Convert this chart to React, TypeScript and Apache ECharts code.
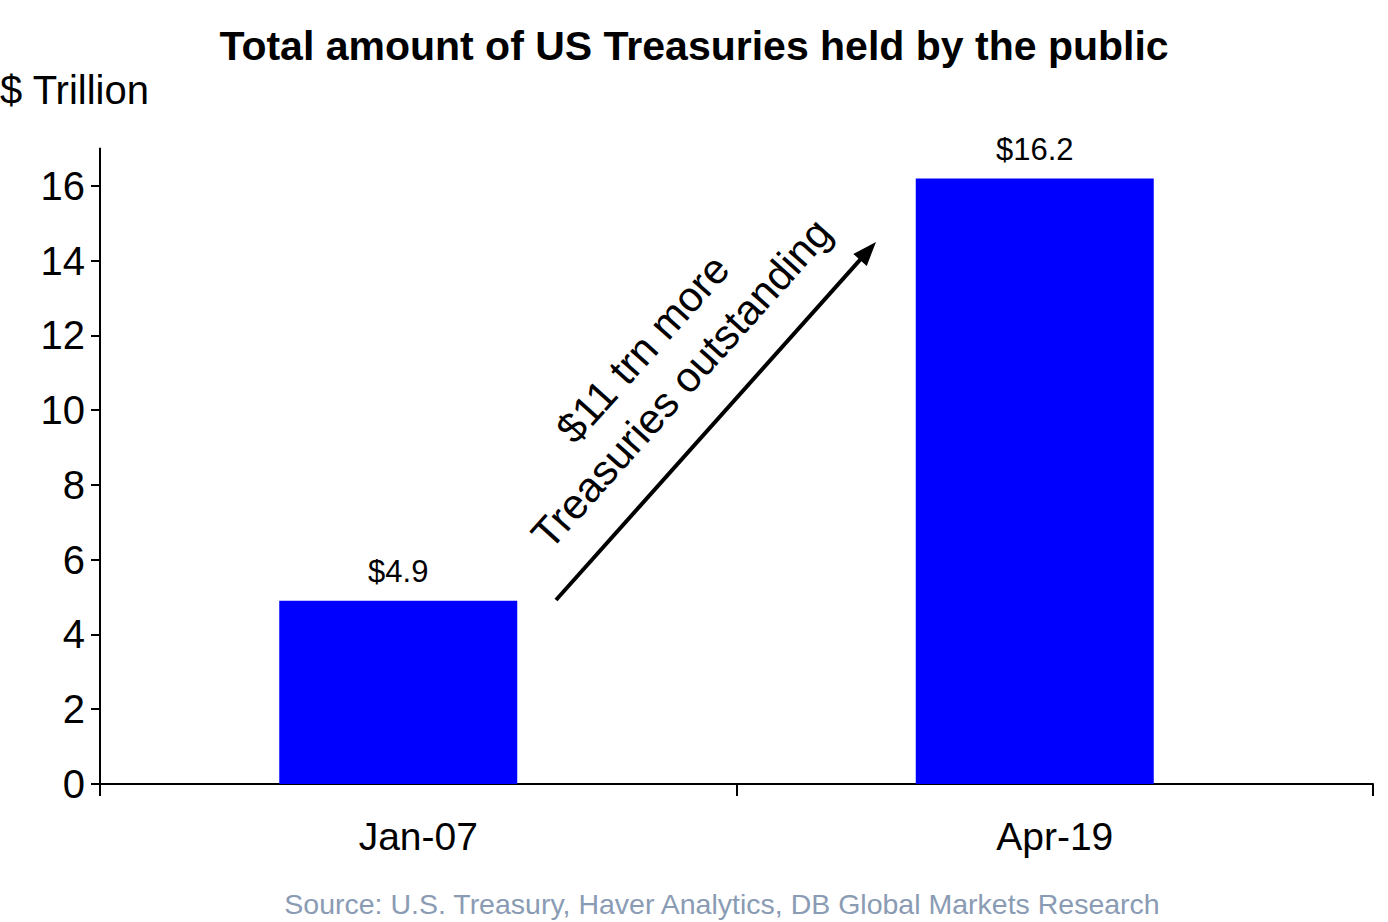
import React, { useEffect, useRef } from "react";
import * as echarts from "echarts";

const categories = ["Jan-07", "Apr-19"];
const values = [4.9, 16.2];
const yTicks = [0, 2, 4, 6, 8, 10, 12, 14, 16];
const titleText = "Total amount of US Treasuries held by the public";
const unitText = "$ Trillion";
const annotationLines = ["$11 trn more", "Treasuries outstanding"];
const sourceText = "Source: U.S. Treasury, Haver Analytics, DB Global Markets Research";

const FONT = "'Liberation Sans', Arial, Helvetica, sans-serif";

function arrowGraphics(x1: number, y1: number, x2: number, y2: number) {
  const dx = x2 - x1;
  const dy = y2 - y1;
  const len = Math.sqrt(dx * dx + dy * dy);
  const ux = dx / len;
  const uy = dy / len;
  const headLen = 24;
  const halfW = 9;
  const bx = x2 - headLen * ux;
  const by = y2 - headLen * uy;
  const nx = -uy;
  const ny = ux;
  return [
    {
      type: "line",
      shape: { x1, y1, x2: bx + ux * 2, y2: by + uy * 2 },
      style: { stroke: "#000", lineWidth: 4 },
    },
    {
      type: "polygon",
      shape: {
        points: [
          [x2, y2],
          [bx + halfW * nx, by + halfW * ny],
          [bx - halfW * nx, by - halfW * ny],
        ],
      },
      style: { fill: "#000" },
    },
  ];
}

export default function App() {
  const ref = useRef<HTMLDivElement>(null);
  useEffect(() => {
    if (!ref.current) return;
    const chart = echarts.init(ref.current, undefined, { renderer: "svg" });
    const angle = Math.atan2(600 - 243, 876 - 556);
    chart.setOption({
      animation: false,
      backgroundColor: "#ffffff",
      title: {
        text: titleText,
        left: "center",
        top: 20,
        textStyle: { fontFamily: FONT, fontSize: 41, fontWeight: "bold", color: "#000" },
      },
      grid: { left: 100, right: 15, top: 148.6, bottom: 138, containLabel: false },
      xAxis: {
        type: "category",
        data: categories,
        boundaryGap: true,
        axisLine: { show: true, lineStyle: { color: "#000", width: 2 } },
        axisTick: { show: true, length: 12, lineStyle: { color: "#000", width: 2 } },
        axisLabel: { fontFamily: FONT, fontSize: 39, color: "#000", margin: 33 },
        splitLine: { show: false },
      },
      yAxis: {
        type: "value",
        min: 0,
        max: 17,
        interval: 2,
        axisLine: { show: true, lineStyle: { color: "#000", width: 2 } },
        axisTick: {
          show: true,
          length: 9,
          customValues: yTicks,
          lineStyle: { color: "#000", width: 2 },
        },
        axisLabel: {
          fontFamily: FONT,
          fontSize: 40,
          color: "#000",
          margin: 15,
          customValues: yTicks,
        },
        splitLine: { show: false },
      },
      series: [
        {
          type: "bar",
          data: values,
          barWidth: 238,
          barGap: "0%",
          itemStyle: { color: "#0000FF" },
          label: {
            show: true,
            position: "top",
            distance: 14,
            fontFamily: FONT,
            fontSize: 31,
            color: "#000",
            formatter: (p: any) => "$" + Number(p.value).toFixed(1),
          },
        },
        {
          type: "bar",
          data: categories.map(() => "-"),
          barWidth: 40,
          barGap: "0%",
          silent: true,
        },
      ],
      graphic: [
        {
          type: "text",
          left: 0,
          top: 70,
          style: { text: unitText, fontFamily: FONT, fontSize: 40, fill: "#000" },
        },
        ...arrowGraphics(556, 600, 876, 242),
        {
          type: "text",
          x: 662,
          y: 366,
          rotation: angle,
          style: {
            text: annotationLines.join("\n"),
            fontFamily: FONT,
            fontSize: 42,
            lineHeight: 52,
            fill: "#000",
            align: "center",
            verticalAlign: "middle",
          },
        },
        {
          type: "text",
          x: 722,
          y: 904,
          style: {
            text: sourceText,
            fontFamily: FONT,
            fontSize: 28.5,
            fill: "#8A9BB4",
            align: "center",
            verticalAlign: "middle",
          },
        },
      ],
    });
    return () => chart.dispose();
  }, []);
  return <div ref={ref} style={{ width: 1388, height: 922, position: "absolute", left: 0, top: 0 }} />;
}
